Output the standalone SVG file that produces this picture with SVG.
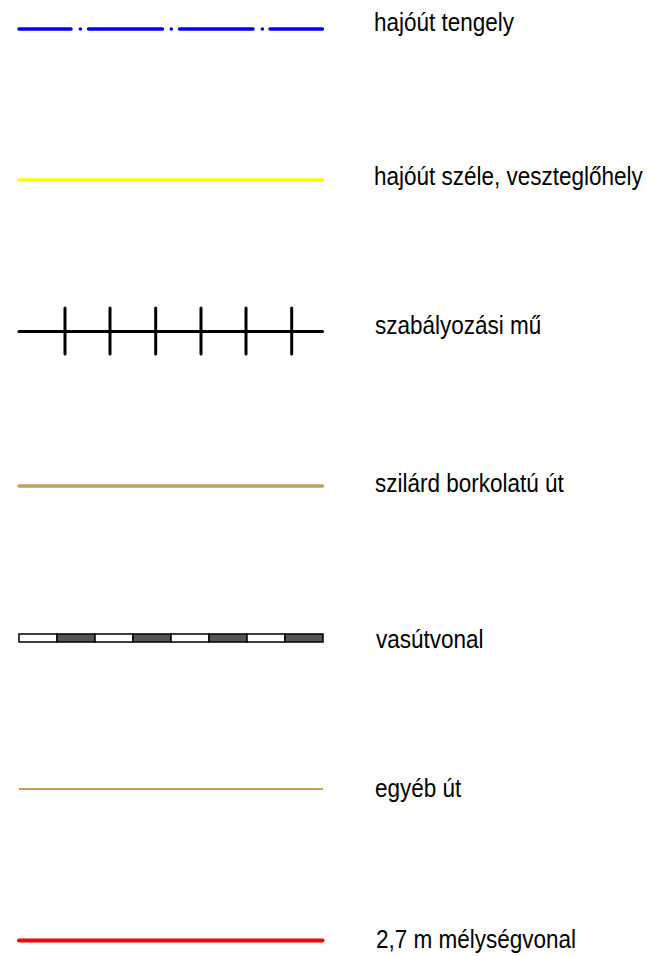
<svg xmlns="http://www.w3.org/2000/svg" width="647" height="956" viewBox="0 0 647 956">
<style>
.lbl{font-family:"Liberation Sans",Arial,sans-serif;font-size:25px;fill:#000}
.ln{fill:none;stroke-linecap:round}
</style>
<rect width="647" height="956" fill="#fff"/>
<g id="hajout-tengely">
<g class="ln" stroke="#0000ff" stroke-width="3.5">
<line x1="19" y1="29" x2="71" y2="29"/>
<line x1="80.3" y1="29" x2="80.4" y2="29"/>
<line x1="88.5" y1="29" x2="162.5" y2="29"/>
<line x1="171.3" y1="29" x2="171.4" y2="29"/>
<line x1="179.5" y1="29" x2="253" y2="29"/>
<line x1="262.3" y1="29" x2="262.4" y2="29"/>
<line x1="270" y1="29" x2="322.5" y2="29"/>
</g>
<text class="lbl" transform="translate(374 31) scale(0.9 1)">hajóút tengely</text>
</g>
<g id="hajout-szele">
<line class="ln" x1="19" y1="180" x2="322.5" y2="180" stroke="#ffff00" stroke-width="3.5"/>
<text class="lbl" transform="translate(374 185) scale(0.9 1)">hajóút széle, veszteglőhely</text>
</g>
<g id="szabalyozasi-mu">
<g class="ln" stroke="#000" stroke-width="3">
<line x1="19" y1="331.5" x2="322.5" y2="331.5"/>
<line x1="65" y1="308" x2="65" y2="354"/>
<line x1="110" y1="308" x2="110" y2="354"/>
<line x1="155.7" y1="308" x2="155.7" y2="354"/>
<line x1="201" y1="308" x2="201" y2="354"/>
<line x1="246" y1="308" x2="246" y2="354"/>
<line x1="291.7" y1="308" x2="291.7" y2="354"/>
</g>
<text class="lbl" transform="translate(375 334) scale(0.9 1)">szabályozási mű</text>
</g>
<g id="szilard-ut">
<line class="ln" x1="19" y1="486" x2="322.5" y2="486" stroke="#bca361" stroke-width="3.5"/>
<text class="lbl" transform="translate(375 492) scale(0.9 1)">szilárd borkolatú út</text>
</g>
<g id="vasutvonal">
<g stroke="#000" stroke-width="1.5">
<rect x="19" y="634" width="38" height="8" fill="#fff"/>
<rect x="57" y="634" width="38" height="8" fill="#555"/>
<rect x="95" y="634" width="38" height="8" fill="#fff"/>
<rect x="133" y="634" width="38" height="8" fill="#555"/>
<rect x="171" y="634" width="38" height="8" fill="#fff"/>
<rect x="209" y="634" width="38" height="8" fill="#555"/>
<rect x="247" y="634" width="38" height="8" fill="#fff"/>
<rect x="285" y="634" width="38" height="8" fill="#555"/>
</g>
<text class="lbl" transform="translate(376 648) scale(0.9 1)">vasútvonal</text>
</g>
<g id="egyeb-ut">
<line x1="19" y1="789" x2="323" y2="789" stroke="#c0a050" stroke-width="2"/>
<text class="lbl" transform="translate(375 797) scale(0.9 1)">egyéb út</text>
</g>
<g id="melysegvonal">
<line class="ln" x1="19" y1="940.5" x2="322.5" y2="940.5" stroke="#ff0000" stroke-width="4"/>
<text class="lbl" transform="translate(376 948) scale(0.9 1)">2,7 m mélységvonal</text>
</g>
<g id="connectors"/>
</svg>
